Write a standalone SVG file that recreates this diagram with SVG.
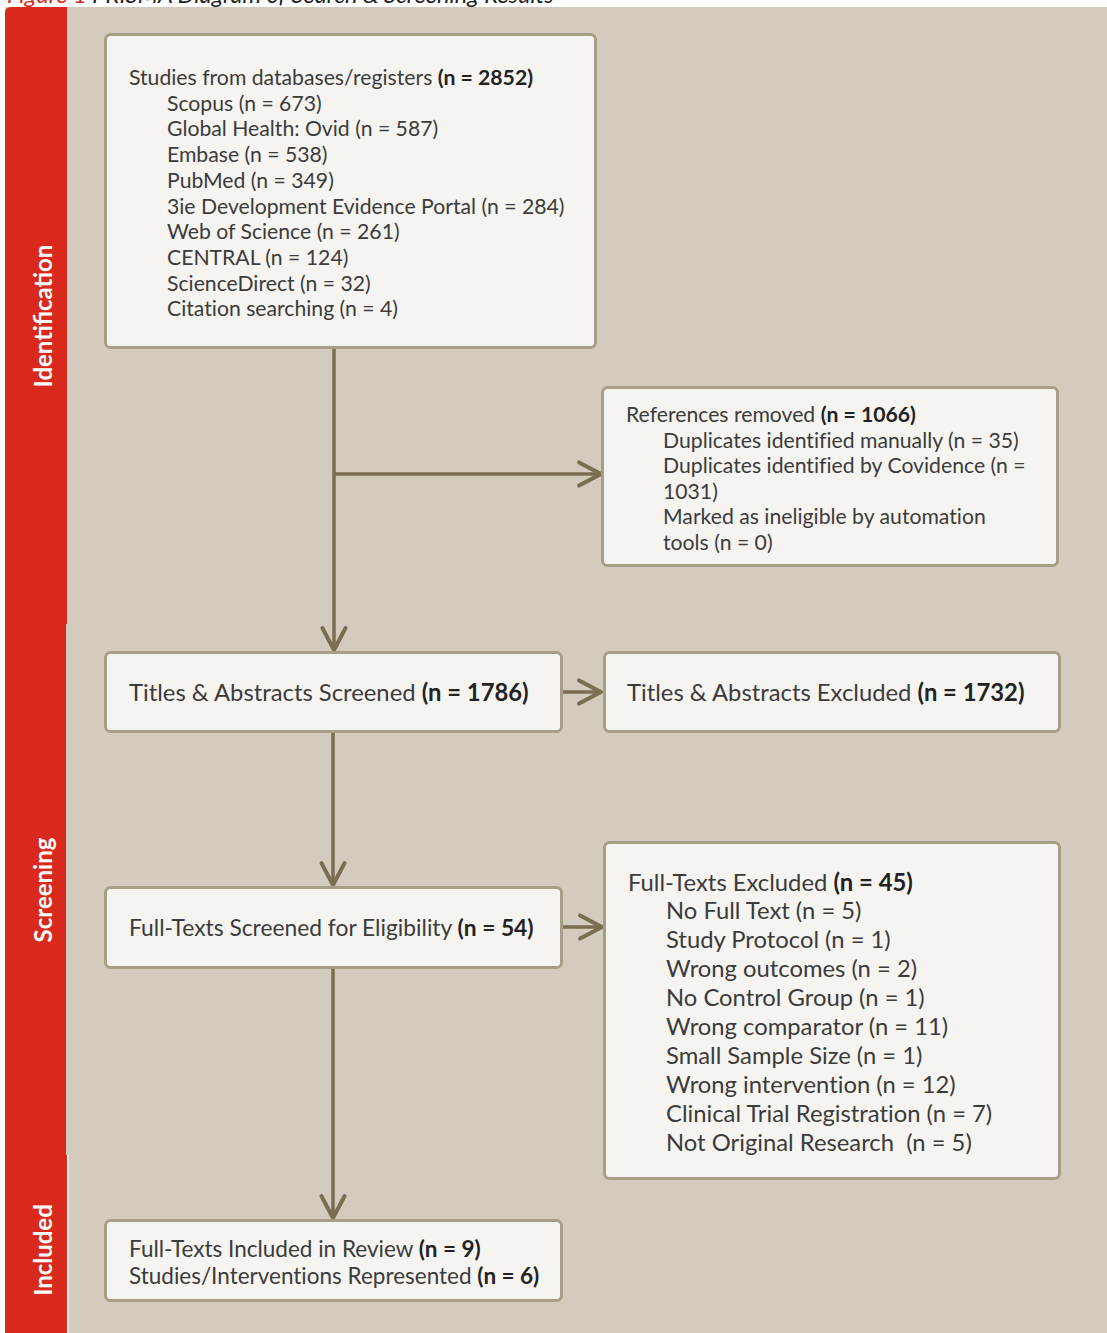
<svg xmlns="http://www.w3.org/2000/svg" width="1107" height="1333" viewBox="0 0 1107 1333">
<style>
.box{fill:#f5f4f1;stroke:#a69e85;stroke-width:3}
.t{font-family:Lato,"Open Sans","Liberation Sans",sans-serif;fill:#3b3b3b;font-variant-ligatures:none}
.s20{font-size:21.2px}
.s23{font-size:22.8px}
.s22{font-size:22.5px}
.s24{font-size:23.8px}
.b{font-weight:bold;fill:#222}
.side{font-family:Lato,"Open Sans","Liberation Sans",sans-serif;font-size:24px;font-weight:bold;fill:#ffffff}
.conn{stroke:#7a6e50;stroke-width:3.5;fill:none}
</style>
<defs>
<marker id="arr" markerUnits="userSpaceOnUse" markerWidth="30" markerHeight="30" viewBox="-22 -12 26 24" refX="0" refY="0" orient="auto">
<path d="M-19,-10 L0,0 L-19,10" fill="none" stroke="#7a6e50" stroke-width="3.5" stroke-linecap="round" stroke-linejoin="round"/>
</marker>
</defs>
<rect x="0" y="0" width="1107" height="1333" fill="#ffffff"/>
<text x="7" y="3" font-family="Lato,'Liberation Sans',sans-serif" font-size="23.6" font-style="italic" fill="#222"><tspan fill="#d9291c">Figure 1</tspan> PRISMA Diagram of Search &amp; Screening Results</text>
<rect x="5" y="7" width="1102" height="1326" fill="#d3cbbd"/>
<g id="bands">
<path d="M5,624 L5,13 Q5,7 11,7 L67,7 L67,624 Z" fill="#d9291c"/>
<rect x="5" y="624" width="61" height="531" fill="#d9291c"/>
<rect x="5" y="1155" width="62" height="178" fill="#d9291c"/>
<rect x="67" y="1155" width="1.5" height="178" fill="#ffffff"/>
<text class="side" transform="translate(42,316) rotate(-90)" text-anchor="middle" dominant-baseline="central">Identification</text>
<text class="side" transform="translate(42,890) rotate(-90)" text-anchor="middle" dominant-baseline="central">Screening</text>
<text class="side" transform="translate(42,1250) rotate(-90)" text-anchor="middle" dominant-baseline="central">Included</text>
</g>
<g id="connectors">
<line class="conn" x1="334" y1="349" x2="334" y2="650" marker-end="url(#arr)"/>
<line class="conn" x1="334" y1="474" x2="601" y2="474" marker-end="url(#arr)"/>
<line class="conn" x1="563" y1="692" x2="601" y2="692" marker-end="url(#arr)"/>
<line class="conn" x1="333" y1="733" x2="333" y2="885" marker-end="url(#arr)"/>
<line class="conn" x1="563" y1="927" x2="602" y2="927" marker-end="url(#arr)"/>
<line class="conn" x1="333" y1="969" x2="333" y2="1218" marker-end="url(#arr)"/>
</g>
<g id="node-studies">
<rect class="box" x="105.5" y="34.5" width="490" height="313" rx="5"/>
<text class="t s20" x="129" y="85">Studies from databases/registers <tspan class="b">(n = 2852)</tspan></text>
<text class="t s20" x="167" y="110.7">Scopus (n = 673)</text>
<text class="t s20" x="167" y="136.4">Global Health: Ovid (n = 587)</text>
<text class="t s20" x="167" y="162.1">Embase (n = 538)</text>
<text class="t s20" x="167" y="187.8">PubMed (n = 349)</text>
<text class="t s20" x="167" y="213.5">3ie Development Evidence Portal (n = 284)</text>
<text class="t s20" x="167" y="239.2">Web of Science (n = 261)</text>
<text class="t s20" x="167" y="264.9">CENTRAL (n = 124)</text>
<text class="t s20" x="167" y="290.6">ScienceDirect (n = 32)</text>
<text class="t s20" x="167" y="316.3">Citation searching (n = 4)</text>
</g>
<g id="node-removed">
<rect class="box" x="602.5" y="387.5" width="455" height="178" rx="5"/>
<text class="t s20" x="626" y="422">References removed <tspan class="b">(n = 1066)</tspan></text>
<text class="t s20" x="663" y="447.6">Duplicates identified manually (n = 35)</text>
<text class="t s20" x="663" y="473.2">Duplicates identified by Covidence (n =</text>
<text class="t s20" x="663" y="498.8">1031)</text>
<text class="t s20" x="663" y="524.4">Marked as ineligible by automation</text>
<text class="t s20" x="663" y="550">tools (n = 0)</text>
</g>
<g id="node-ta-screened">
<rect class="box" x="105.5" y="652.5" width="456" height="79" rx="5"/>
<text class="t s24" x="129" y="700.5">Titles &amp; Abstracts Screened <tspan class="b">(n = 1786)</tspan></text>
</g>
<g id="node-ta-excluded">
<rect class="box" x="604.5" y="652.5" width="455" height="79" rx="5"/>
<text class="t s24" x="627" y="700.5">Titles &amp; Abstracts Excluded <tspan class="b">(n = 1732)</tspan></text>
</g>
<g id="node-ft-screened">
<rect class="box" x="105.5" y="887.5" width="456" height="80" rx="5"/>
<text class="t s23" x="129" y="936">Full-Texts Screened for Eligibility <tspan class="b">(n = 54)</tspan></text>
</g>
<g id="node-ft-excluded">
<rect class="box" x="604.5" y="842.5" width="455" height="336" rx="5"/>
<text class="t s24" x="628" y="890.5">Full-Texts Excluded <tspan class="b">(n = 45)</tspan></text>
<text class="t s24" x="666" y="919.4">No Full Text (n = 5)</text>
<text class="t s24" x="666" y="948.3">Study Protocol (n = 1)</text>
<text class="t s24" x="666" y="977.2">Wrong outcomes (n = 2)</text>
<text class="t s24" x="666" y="1006.1">No Control Group (n = 1)</text>
<text class="t s24" x="666" y="1035">Wrong comparator (n = 11)</text>
<text class="t s24" x="666" y="1063.9">Small Sample Size (n = 1)</text>
<text class="t s24" x="666" y="1092.8">Wrong intervention (n = 12)</text>
<text class="t s24" x="666" y="1121.7">Clinical Trial Registration (n = 7)</text>
<text class="t s24" x="666" y="1150.6" xml:space="preserve">Not Original Research  (n = 5)</text>
</g>
<g id="node-included">
<rect class="box" x="105.5" y="1220.5" width="456" height="80" rx="5"/>
<text class="t s22" x="129" y="1257">Full-Texts Included in Review <tspan class="b">(n = 9)</tspan></text>
<text class="t s22" x="129" y="1284">Studies/Interventions Represented <tspan class="b">(n = 6)</tspan></text>
</g>
</svg>
